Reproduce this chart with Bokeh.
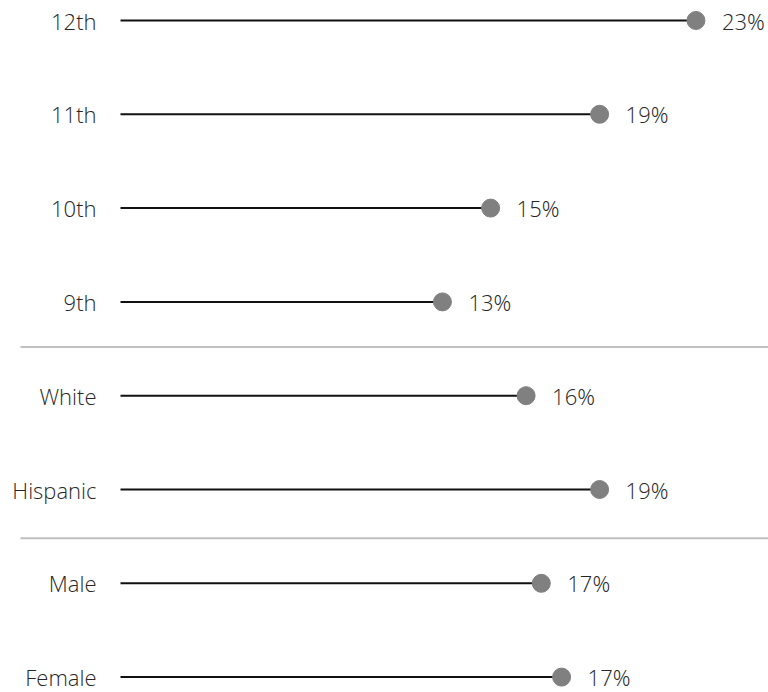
from bokeh.plotting import figure
from bokeh.models import Range1d, ColumnDataSource
from bokeh.core.properties import value
from bokeh.embed import file_html
from bokeh.resources import INLINE

# Data (top to bottom)
categories = ["12th", "11th", "10th", "9th", "White", "Hispanic", "Male", "Female"]
values = [22.7, 18.9, 14.6, 12.7, 16.0, 18.9, 16.6, 17.4]
group_breaks = [3.48, 5.52]  # separators between grade / ethnicity / gender groups

W, H = 768, 692
px_per_unit = 25.35
origin_px = 120
row_px = 93.8
top_px = 20
sep_start_px = 20

idx = list(range(len(categories)))
labels = [f"{round(v)}%" for v in values]
src = ColumnDataSource(dict(cat=categories, v=values, y=idx, zero=[0] * len(idx), lab=labels))

x_start = -origin_px / px_per_unit
x_end = (W - origin_px) / px_per_unit
y_top = -top_px / row_px
y_bottom = y_top + H / row_px

p = figure(width=W, height=H, output_backend="svg", toolbar_location=None,
           x_range=Range1d(x_start, x_end), y_range=Range1d(y_bottom, y_top),
           min_border=0, min_border_left=0, min_border_right=0, min_border_top=0, min_border_bottom=0)
p.axis.visible = False
p.grid.visible = False
p.outline_line_color = None
p.background_fill_color = "white"
p.border_fill_color = "white"

txt_color = "#262626"
fs = "22px"
font = value("Open Sans Light")

# separators
sep_x0 = x_start + sep_start_px / px_per_unit
p.segment(x0=[sep_x0] * len(group_breaks), x1=[x_end] * len(group_breaks),
          y0=group_breaks, y1=group_breaks, line_color="#c0c0c0", line_width=2)

p.segment(x0="zero", x1="v", y0="y", y1="y", source=src, line_color="#111111", line_width=2)
p.scatter(x="v", y="y", source=src, size=18, fill_color="#808080", line_color="#808080")

p.text(x="zero", y="y", text="cat", source=src, x_offset=-24, text_align="right",
       text_baseline="middle", text_font=font, text_font_size=fs, text_color=txt_color)
p.text(x="v", y="y", text="lab", source=src, x_offset=26, text_align="left",
       text_baseline="middle", text_font=font, text_font_size=fs, text_color=txt_color)

open("out.html", "w").write(file_html(p, INLINE))
